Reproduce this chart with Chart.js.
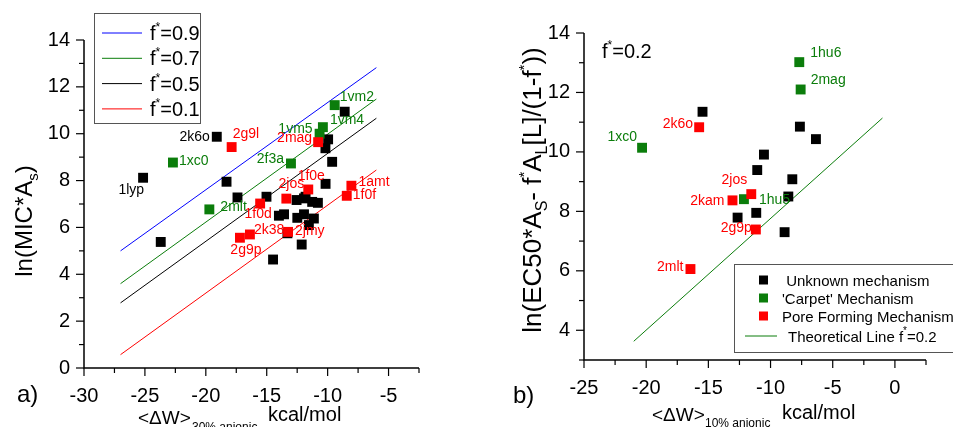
<!DOCTYPE html>
<html>
<head>
<meta charset="utf-8">
<script src="https://cdn.jsdelivr.net/npm/chart.js@4.4.0/dist/chart.umd.min.js"></script>
<style>
  html, body { margin: 0; padding: 0; background: #fff; }
  #wrap { position: relative; width: 953px; height: 427px; overflow: hidden; }
  canvas { position: absolute; top: 0; }
  #ca { left: 0; }
  #cb { left: 480px; }
</style>
</head>
<body>
<div id="wrap">
  <canvas id="ca" width="480" height="427"></canvas>
  <canvas id="cb" width="473" height="427"></canvas>
</div>
<script>
// ---- panel a) data ----
const aUnknownX = [-25.15, -23.7, -19.1, -18.3, -17.4, -15.02, -14.48, -14.0, -13.58, -13.3, -12.55, -11.94, -11.81, -11.27, -10.8,
  -12.49, -11.94, -11.13, -11.54, -12.13, -10.17, -9.63, -10.18, -9.96, -8.6];
const aUnknownY = [8.12, 5.38, 9.87, 7.95, 7.28, 7.31, 4.63, 6.5, 6.56, 5.75, 7.17, 7.24, 7.31, 7.09, 7.05,
  6.41, 6.56, 6.38, 6.1, 5.27, 7.86, 8.8, 9.38, 9.76, 10.94];
const aUnknownNames = ['1lyp', '', '2k6o', '', '', '', '', '', '', '', '', '', '', '', '',
  '', '', '', '', '', '', '', '', '', ''];

const aCarpetX = [-22.7, -19.71, -13.01, -10.66, -10.39, -9.42];
const aCarpetY = [8.77, 6.77, 8.73, 10.0, 10.28, 11.22];
const aCarpetNames = ['1xc0', '2mlt', '2f3a', '1vm5', '1vm4', '1vm2'];

const aPoreX = [-17.88, -10.78, -15.54, -13.39, -11.59, -8.05, -8.43, -16.38, -17.2, -13.25];
const aPoreY = [9.43, 9.64, 7.02, 7.23, 7.62, 7.78, 7.35, 5.70, 5.56, 5.81];
const aPoreNames = ['2g9l', '2mag', '1f0d', '2jos', '1f0e', '1amt', '1f0f', '2k38', '2g9p', '2jmy'];

const aLineX = [-27, -6];
const aLine09 = [5.0, 12.82];
const aLine07 = [3.6, 11.48];
const aLine05 = [2.78, 10.66];
const aLine01 = [0.57, 8.45];
const aLineNames = ['0.9', '0.7', '0.5', '0.1'];

const aXRange = [-30, -2.5, 2.5, 5];   // min, max, minor step, labelled step
const aYRange = [0, 14, 1, 2];

// ---- panel b) data ----
const bUnknownX = [-15.47, -7.64, -6.35, -10.53, -11.07, -8.25, -8.57, -11.15, -12.65, -8.87];
const bUnknownY = [11.35, 10.85, 10.43, 9.91, 9.39, 9.08, 8.5, 7.95, 7.79, 7.3];

const bCarpetX = [-7.69, -7.58, -20.33, -12.14];
const bCarpetY = [13.02, 12.1, 10.14, 8.41];
const bCarpetNames = ['1hu6', '2mag', '1xc0', '1hu5'];

const bPoreX = [-15.74, -11.55, -13.06, -11.18, -16.44];
const bPoreY = [10.83, 8.58, 8.37, 7.39, 6.06];
const bPoreNames = ['2k6o', '2jos', '2kam', '2g9p', '2mlt'];

const bLineX = [-21, -1];
const bLineY = [3.63, 11.14];

const bXRange = [-25, 2.5, 2.5, 5];
const bYRange = [3, 14, 1, 2];

// ---- label placement (px offsets from the marker) ----
const aLabelPos = {
  '1lyp': [1, 12, 'right'], '2k6o': [-7, 0, 'right'],
  '1xc0': [6, -1, 'left'], '2mlt': [11, -2, 'left'], '2f3a': [-7, -4, 'right'],
  '1vm5': [-7, -5, 'right'], '1vm4': [7, -7, 'left'], '1vm2': [5, -8, 'left'],
  '2g9l': [1, -13, 'left'], '2mag': [-6, -4, 'right'], '1f0d': [-2, 11, 'center'],
  '2jos': [5, -14, 'center'], '1f0e': [3, -13, 'center'], '1amt': [7, -4, 'left'],
  '1f0f': [6, -1, 'left'], '2k38': [4, -4, 'left'], '2g9p': [6, 12, 'center'],
  '2jmy': [7, -1, 'left']
};
const bLabelPos = {
  '1hu6': [11, -9, 'left'], '2mag': [10, -9, 'left'], '1xc0': [-5, -11, 'right'],
  '1hu5': [15, 1, 'left'], '2k6o': [-6, -3, 'right'], '2jos': [-4, -14, 'right'],
  '2kam': [-8, 1, 'right'], '2g9p': [-4, -1, 'right'], '2mlt': [-7, -2, 'right']
};

const FONT = '"Liberation Sans", Arial, sans-serif';
const BLACK = '#000000';
const GREEN = '#0b7d0b';
const RED = '#ff0000';
const BLUE = '#0000ff';

function pts(xs, ys) {
  return xs.map((x, i) => ({ x: x, y: ys[i] }));
}

function markers(xs, ys, color, order) {
  return {
    data: pts(xs, ys), pointStyle: 'rect', pointRadius: 7, pointHoverRadius: 7,
    backgroundColor: color, borderColor: color, borderWidth: 0, showLine: false, order: order
  };
}

function line(xs, ys, color) {
  return {
    data: pts(xs, ys), showLine: true, pointRadius: 0, borderColor: color,
    borderWidth: 1, fill: false, order: 10
  };
}

function axis(range, size, pad) {
  return {
    type: 'linear', min: range[0], max: range[1],
    grid: { display: false, drawTicks: true, tickLength: 8 },
    border: { display: false },
    ticks: {
      stepSize: range[2], autoSkip: false, maxRotation: 0, padding: pad, color: '#000',
      font: { size: 20, family: FONT },
      callback: v => (Math.abs(v / range[3] - Math.round(v / range[3])) < 1e-6 ? String(v) : '')
    },
    afterFit: s => { if (s.isHorizontal()) s.height = size; else s.width = size; }
  };
}

// text made of pieces: [text, size, dy]
function rich(ctx, parts, x, y, align, rotate, color) {
  ctx.save();
  ctx.translate(x, y);
  if (rotate) ctx.rotate(-Math.PI / 2);
  ctx.fillStyle = color || '#000';
  ctx.textAlign = 'left';
  ctx.textBaseline = 'alphabetic';
  let total = 0;
  const w = parts.map(p => { ctx.font = p[1] + 'px ' + FONT; const m = ctx.measureText(p[0]).width; total += m; return m; });
  let cx = align === 'center' ? -total / 2 : 0;
  parts.forEach((p, i) => {
    ctx.font = p[1] + 'px ' + FONT;
    ctx.fillText(p[0], cx, p[2] || 0);
    cx += w[i];
  });
  ctx.restore();
}

function drawAxes(chart) {
  const ctx = chart.ctx, a = chart.chartArea;
  const sx = chart.scales.x, sy = chart.scales.y;
  ctx.save();
  ctx.strokeStyle = '#000';
  ctx.lineWidth = 1.5;
  ctx.beginPath();
  ctx.moveTo(a.left, a.top);
  ctx.lineTo(a.left, a.bottom);
  ctx.lineTo(a.right, a.bottom);
  ctx.stroke();
  ctx.lineWidth = 1.2;
  sx.ticks.forEach(t => {
    const px = sx.getPixelForValue(t.value);
    const len = t.label !== '' ? 8 : 5;
    ctx.beginPath(); ctx.moveTo(px, a.bottom); ctx.lineTo(px, a.bottom + len); ctx.stroke();
  });
  sy.ticks.forEach(t => {
    const py = sy.getPixelForValue(t.value);
    const len = t.label !== '' ? 8 : 5;
    ctx.beginPath(); ctx.moveTo(a.left - len, py); ctx.lineTo(a.left, py); ctx.stroke();
  });
  ctx.restore();
}

function drawNames(chart, xs, ys, names, color, pos) {
  const ctx = chart.ctx;
  const sx = chart.scales.x, sy = chart.scales.y;
  ctx.save();
  ctx.font = '14px ' + FONT;
  ctx.fillStyle = color;
  ctx.textBaseline = 'middle';
  names.forEach((n, i) => {
    if (!n || !pos[n]) return;
    const p = pos[n];
    ctx.textAlign = p[2];
    ctx.fillText(n, sx.getPixelForValue(xs[i]) + p[0], sy.getPixelForValue(ys[i]) + p[1]);
  });
  ctx.restore();
}

function decor(extra) {
  return { id: 'decor', afterDraw: chart => { drawAxes(chart); extra(chart); } };
}

function baseOptions(xr, yr, xh, yw, pad) {
  return {
    responsive: false, animation: false,
    layout: { padding: pad },
    plugins: { legend: { display: false }, tooltip: { enabled: false } },
    scales: { x: axis(xr, xh, 8), y: axis(yr, yw, 6) }
  };
}

// ---- panel a ----
new Chart(document.getElementById('ca'), {
  type: 'scatter',
  data: {
    datasets: [
      markers(aPoreX, aPoreY, RED, 1),
      markers(aCarpetX, aCarpetY, GREEN, 2),
      markers(aUnknownX, aUnknownY, BLACK, 3),
      line(aLineX, aLine09, BLUE),
      line(aLineX, aLine07, GREEN),
      line(aLineX, aLine05, BLACK),
      line(aLineX, aLine01, RED)
    ]
  },
  options: baseOptions(aXRange, aYRange, 59, 84, { left: 0, top: 40, right: 61, bottom: 0 }),
  plugins: [decor(chart => {
    const ctx = chart.ctx;
    drawNames(chart, aUnknownX, aUnknownY, aUnknownNames, BLACK, aLabelPos);
    drawNames(chart, aCarpetX, aCarpetY, aCarpetNames, GREEN, aLabelPos);
    drawNames(chart, aPoreX, aPoreY, aPoreNames, RED, aLabelPos);

    // legend box
    ctx.save();
    ctx.fillStyle = '#fff';
    ctx.fillRect(94, 13, 106, 110);
    ctx.strokeStyle = '#555';
    ctx.lineWidth = 1;
    ctx.strokeRect(94.5, 13.5, 106, 110);
    const cols = [BLUE, GREEN, BLACK, RED];
    aLineNames.forEach((n, i) => {
      const y = 33 + i * 25.3;
      ctx.strokeStyle = cols[i];
      ctx.beginPath(); ctx.moveTo(102, y); ctx.lineTo(142, y); ctx.stroke();
      rich(ctx, [['f', 20], ['*', 12, -9], ['=' + n, 20]], 150, y + 7, 'left', false);
    });
    ctx.restore();

    // axis titles
    rich(ctx, [['ln(MIC*A', 24], ['s', 15, 6], [')', 24]], 32, 221, 'center', true);
    rich(ctx, [['<\u0394W>', 19]], 138, 424, 'left', false);
    rich(ctx, [['30% anionic', 12]], 192, 431, 'left', false);
    rich(ctx, [['kcal/mol', 20]], 268, 421, 'left', false);
    rich(ctx, [['a)', 24]], 17, 402, 'left', false);
  })]
});

// ---- panel b ----
new Chart(document.getElementById('cb'), {
  type: 'scatter',
  data: {
    datasets: [
      markers(bPoreX, bPoreY, RED, 1),
      markers(bCarpetX, bCarpetY, GREEN, 2),
      markers(bUnknownX, bUnknownY, BLACK, 3),
      line(bLineX, bLineY, GREEN)
    ]
  },
  options: baseOptions(bXRange, bYRange, 67, 104, { left: 0, top: 33, right: 27, bottom: 0 }),
  plugins: [decor(chart => {
    const ctx = chart.ctx;
    drawNames(chart, bCarpetX, bCarpetY, bCarpetNames, GREEN, bLabelPos);
    drawNames(chart, bPoreX, bPoreY, bPoreNames, RED, bLabelPos);

    rich(ctx, [['f', 20], ['*', 12, -9], ['=0.2', 20]], 122, 58, 'left', false);

    // legend box
    ctx.save();
    ctx.fillStyle = '#fff';
    ctx.fillRect(254, 264, 230, 88);
    ctx.strokeStyle = '#555';
    ctx.lineWidth = 1;
    ctx.strokeRect(254.5, 264.5, 230, 88);
    const items = [[BLACK, ' Unknown mechanism', 280], [GREEN, "'Carpet' Mechanism", 298], [RED, 'Pore Forming Mechanism', 316]];
    items.forEach(it => {
      ctx.fillStyle = it[0];
      ctx.fillRect(279, it[2] - 4.5, 9, 9);
      rich(ctx, [[it[1], 15]], 302, it[2] + 5.5, 'left', false);
    });
    ctx.strokeStyle = GREEN;
    ctx.beginPath(); ctx.moveTo(265, 336); ctx.lineTo(297, 336); ctx.stroke();
    rich(ctx, [['Theoretical Line f', 15], ['*', 10, -8], ['=0.2', 15]], 308, 341.5, 'left', false);
    ctx.restore();

    // axis titles
    rich(ctx, [['ln(EC50*A', 26], ['S', 16, 6], ['- f', 26], ['*', 15, -12], ['A', 26], ['L', 16, 6],
      ['[L]/(1-f', 26], ['*', 15, -12], ['))', 26]], 61, 190, 'center', true);
    rich(ctx, [['<\u0394W>', 19]], 172, 421, 'left', false);
    rich(ctx, [['10% anionic', 12]], 225, 427, 'left', false);
    rich(ctx, [['kcal/mol', 20]], 302, 419, 'left', false);
    rich(ctx, [['b)', 24]], 33, 403, 'left', false);
  })]
});
</script>
</body>
</html>
